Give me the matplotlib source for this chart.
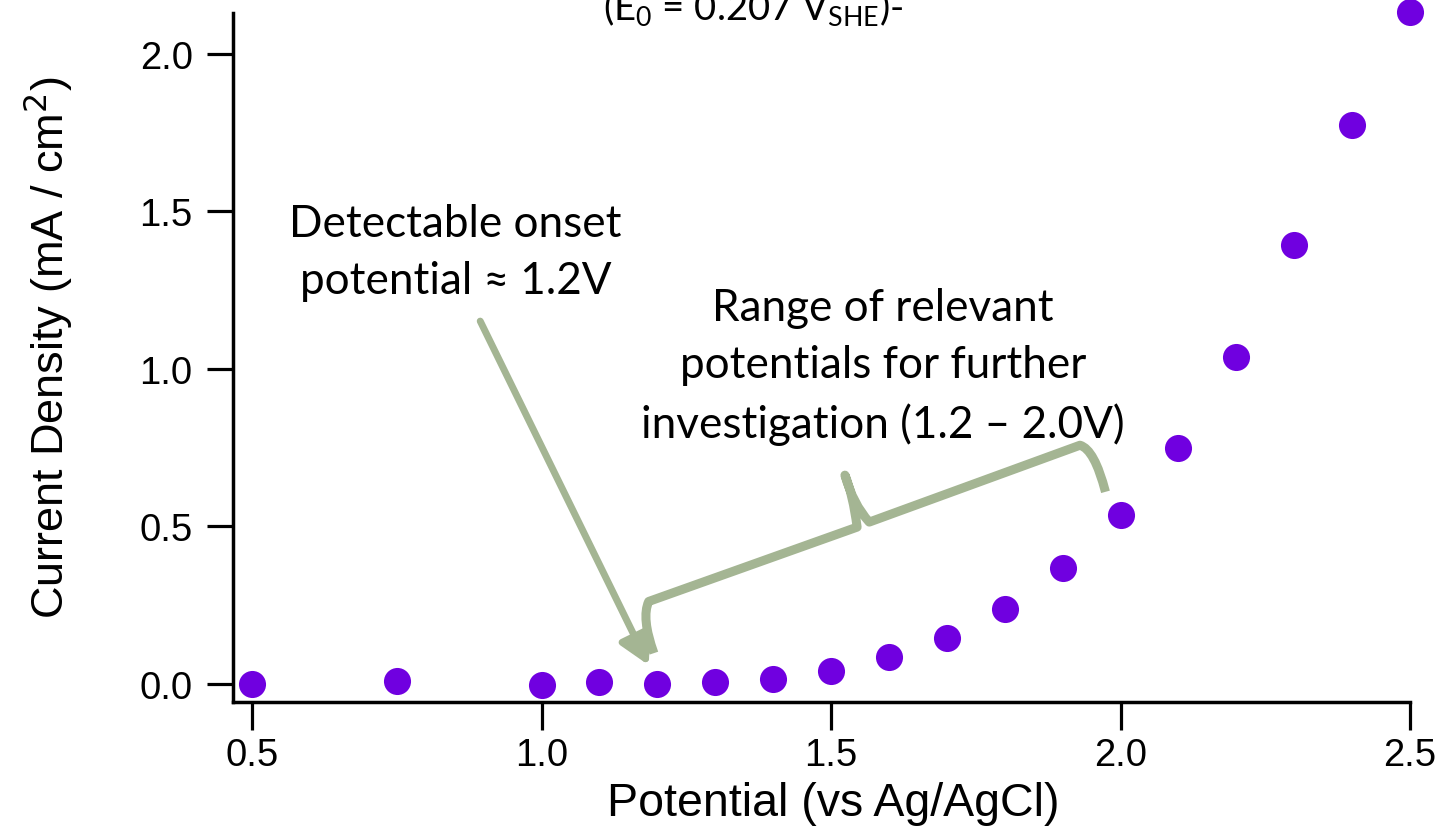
import matplotlib
matplotlib.use("Agg")
import matplotlib.pyplot as plt
from matplotlib import font_manager
from matplotlib.path import Path
from matplotlib.patches import PathPatch, FancyArrowPatch

# ---- data ----
potential = [0.5, 0.75, 1.0, 1.1, 1.2, 1.3, 1.4, 1.5, 1.6, 1.7, 1.8, 1.9,
             2.0, 2.1, 2.2, 2.3, 2.4, 2.5]
current = [0.000, 0.010, -0.003, 0.005, 0.000, 0.005, 0.016, 0.041, 0.086,
           0.146, 0.238, 0.368, 0.537, 0.749, 1.038, 1.394, 1.775, 2.133]
xticks = [0.5, 1.0, 1.5, 2.0, 2.5]
yticks = [0.0, 0.5, 1.0, 1.5, 2.0]
xtick_labels = ["0.5", "1.0", "1.5", "2.0", "2.5"]
ytick_labels = ["0.0", "0.5", "1.0", "1.5", "2.0"]

marker_color = "#7000E0"
annot_color = "#A4B593"

plt.rcParams['font.family'] = ['Liberation Sans', 'DejaVu Sans']
plt.rcParams['mathtext.fontset'] = 'custom'
plt.rcParams['mathtext.rm'] = 'Lato'
plt.rcParams['mathtext.it'] = 'Lato:italic'

def has_font(name):
    try:
        font_manager.findfont(name, fallback_to_default=False)
        return True
    except Exception:
        return False

narrow = 'Liberation Sans Narrow' if has_font('Liberation Sans Narrow') else 'Liberation Sans'

fig = plt.figure(figsize=(14.39, 8.37), dpi=100)
ax = fig.add_axes([233/1439, 1 - 703/837, (1410-233)/1439, (703-14)/837])

ax.plot(potential, current, linestyle='none', marker='o', markersize=19.5,
        color=marker_color, markeredgewidth=0, clip_on=False, zorder=3)

ax.set_xlim(0.467, 2.5)
ax.set_ylim(-0.0571, 2.130)
ax.set_xticks(xticks)
ax.set_xticklabels(xtick_labels)
ax.set_yticks(yticks)
ax.set_yticklabels(ytick_labels)

for s in ['top', 'right']:
    ax.spines[s].set_visible(False)
for s in ['left', 'bottom']:
    ax.spines[s].set_linewidth(2.5)

ax.tick_params(axis='y', direction='out', length=19, width=2.3, labelsize=27.5, pad=10)
ax.tick_params(axis='x', direction='out', length=20, width=2.3, labelsize=27.5, pad=5)

ax.set_xlabel("Potential (vs Ag/AgCl)", fontsize=33.5)
ax.xaxis.set_label_coords(0.51, -0.115)
ax.set_ylabel("Current Density (mA / cm$^{\\mathsf{2}}$)",
              fontsize=35 if narrow != 'Liberation Sans' else 32.5, family=narrow)
ax.yaxis.set_label_coords(-0.134, 0.515)

# ---- annotations ----
ann_font = ['Lato', 'DejaVu Sans']
ax.text(0.851, 1.371, "Detectable onset\npotential \u2248 1.2V", ha='center', va='center',
        fontsize=31.7, family=ann_font, linespacing=1.5)
ax.text(1.590, 1.010, "Range of relevant\npotentials for further\ninvestigation (1.2 \u2013 2.0V)",
        ha='center', va='center', fontsize=31.7, family=ann_font, linespacing=1.5)

fig.text(753/1439, 1 - 20/837, "(E$_0$ = 0.207 V$_{\\mathrm{SHE}}$)-", ha='center',
         va='baseline', fontsize=27.5, family=ann_font)

arrow = FancyArrowPatch((0.894, 1.152), (1.185, 0.060),
                        arrowstyle='-|>,head_length=1.8,head_width=1.0',
                        mutation_scale=10, color=annot_color, linewidth=5,
                        shrinkA=0, shrinkB=0, zorder=4)
ax.add_patch(arrow)

verts = [
    (1.194, 0.098),
    (1.172, 0.210), (1.185, 0.262),
    (1.545, 0.498),
    (1.538, 0.600), (1.524, 0.663),
    (1.538, 0.571), (1.566, 0.514),
    (1.930, 0.758),
    (1.955, 0.745), (1.974, 0.610),
]
codes = [Path.MOVETO,
         Path.CURVE3, Path.CURVE3,
         Path.LINETO,
         Path.CURVE3, Path.CURVE3,
         Path.CURVE3, Path.CURVE3,
         Path.LINETO,
         Path.CURVE3, Path.CURVE3]
brace = PathPatch(Path(verts, codes), facecolor='none', edgecolor=annot_color,
                  linewidth=6.5, joinstyle='round', capstyle='butt', zorder=4)
ax.add_patch(brace)

fig.savefig("out.png", dpi=100)
